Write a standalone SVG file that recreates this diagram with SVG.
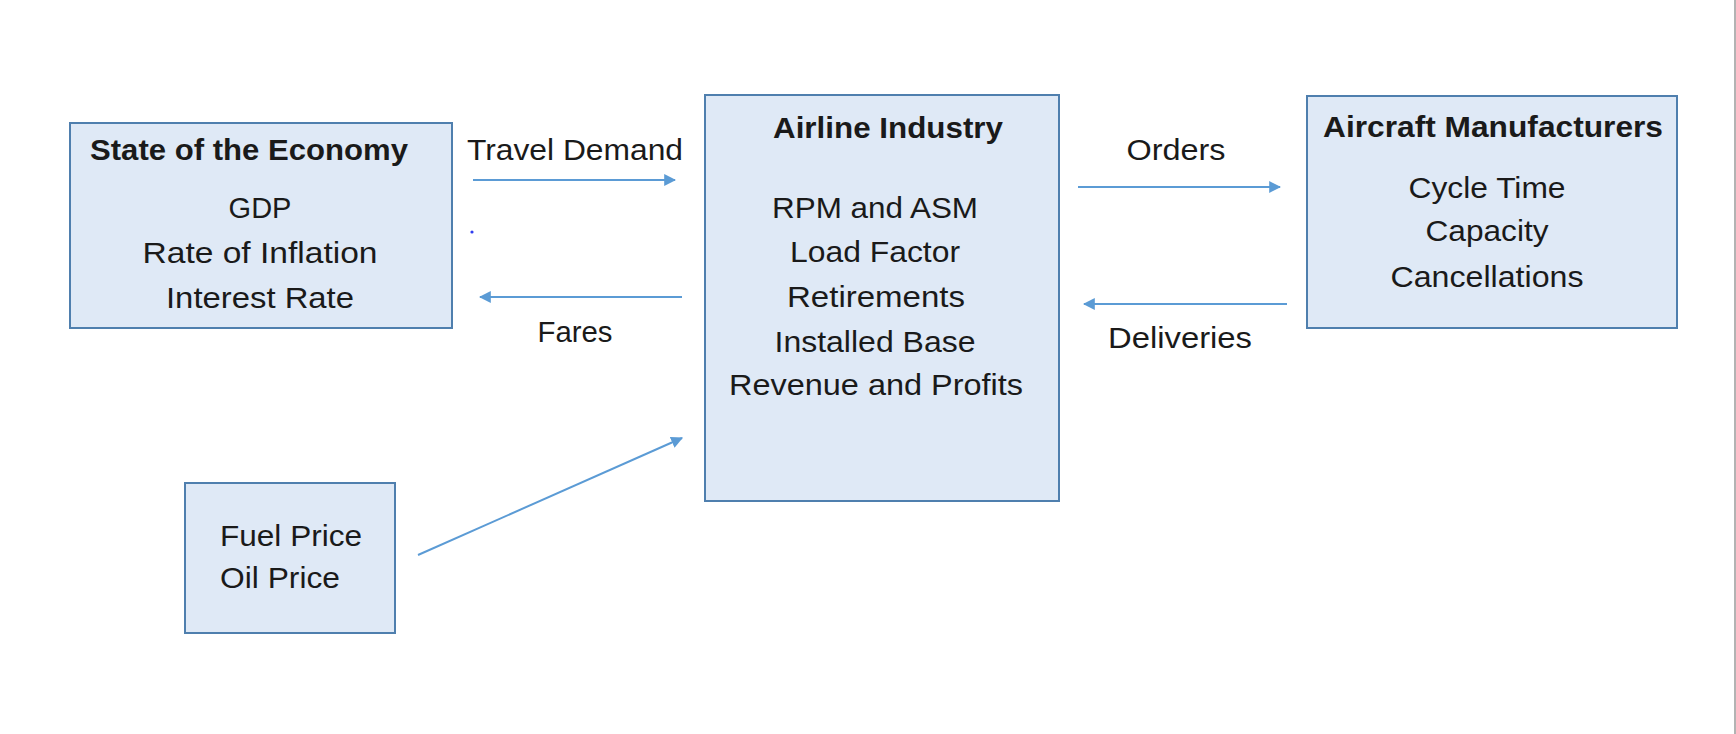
<svg xmlns="http://www.w3.org/2000/svg" width="1736" height="734" viewBox="0 0 1736 734">
<style>
.box{fill:#dfe9f6;stroke:#4f7fae;stroke-width:2}
.t{font-family:"Liberation Sans",Arial,sans-serif;font-size:29px;fill:#1a1a1a}
.b{font-weight:bold}
.c{text-anchor:middle}
.con{stroke:#5b9bd5;stroke-width:2;fill:none;marker-end:url(#ah)}
</style>
<defs>
<marker id="ah" viewBox="0 0 10 10" refX="9" refY="5" markerWidth="6" markerHeight="6" orient="auto" markerUnits="strokeWidth">
<path d="M0,0 L10,5 L0,10 z" fill="#5b9bd5"/>
</marker>
</defs>
<rect width="1736" height="734" fill="#ffffff"/>
<line x1="1735" y1="0" x2="1735" y2="734" stroke="#9a9a9a" stroke-width="1.5"/>
<g id="economy">
<rect class="box" x="70" y="123" width="382" height="205"/>
<text class="t b" x="90" y="160" textLength="318" lengthAdjust="spacingAndGlyphs">State of the Economy</text>
<text class="t c" x="260" y="218">GDP</text>
<text class="t c" x="260" y="263" textLength="235" lengthAdjust="spacingAndGlyphs">Rate of Inflation</text>
<text class="t c" x="260" y="308" textLength="188" lengthAdjust="spacingAndGlyphs">Interest Rate</text>
</g>
<g id="airline">
<rect class="box" x="705" y="95" width="354" height="406"/>
<text class="t b c" x="888" y="138" textLength="230" lengthAdjust="spacingAndGlyphs">Airline Industry</text>
<text class="t c" x="875" y="218" textLength="206" lengthAdjust="spacingAndGlyphs">RPM and ASM</text>
<text class="t c" x="875" y="262" textLength="170" lengthAdjust="spacingAndGlyphs">Load Factor</text>
<text class="t c" x="876" y="307" textLength="178" lengthAdjust="spacingAndGlyphs">Retirements</text>
<text class="t c" x="875" y="352" textLength="201" lengthAdjust="spacingAndGlyphs">Installed Base</text>
<text class="t c" x="876" y="395" textLength="294" lengthAdjust="spacingAndGlyphs">Revenue and Profits</text>
</g>
<g id="manufacturers">
<rect class="box" x="1307" y="96" width="370" height="232"/>
<text class="t b c" x="1493" y="137" textLength="340" lengthAdjust="spacingAndGlyphs">Aircraft Manufacturers</text>
<text class="t c" x="1487" y="198" textLength="157" lengthAdjust="spacingAndGlyphs">Cycle Time</text>
<text class="t c" x="1487" y="241" textLength="123" lengthAdjust="spacingAndGlyphs">Capacity</text>
<text class="t c" x="1487" y="287" textLength="193" lengthAdjust="spacingAndGlyphs">Cancellations</text>
</g>
<g id="fuel">
<rect class="box" x="185" y="483" width="210" height="150"/>
<text class="t" x="220" y="546" textLength="142" lengthAdjust="spacingAndGlyphs">Fuel Price</text>
<text class="t" x="220" y="588" textLength="120" lengthAdjust="spacingAndGlyphs">Oil Price</text>
</g>
<g id="connectors">
<line class="con" x1="473" y1="180" x2="675" y2="180"/>
<line class="con" x1="682" y1="297" x2="480" y2="297"/>
<line class="con" x1="1078" y1="187" x2="1280" y2="187"/>
<line class="con" x1="1287" y1="304" x2="1084" y2="304"/>
<line class="con" x1="418" y1="555" x2="682" y2="438"/>
</g>
<g id="labels">
<text class="t" x="467" y="160" textLength="216" lengthAdjust="spacingAndGlyphs">Travel Demand</text>
<text class="t c" x="575" y="342" textLength="75" lengthAdjust="spacingAndGlyphs">Fares</text>
<text class="t c" x="1176" y="160" textLength="99" lengthAdjust="spacingAndGlyphs">Orders</text>
<text class="t c" x="1180" y="348" textLength="144" lengthAdjust="spacingAndGlyphs">Deliveries</text>
</g>
<circle cx="472" cy="232" r="1.6" fill="#2f3cf0"/>
</svg>
